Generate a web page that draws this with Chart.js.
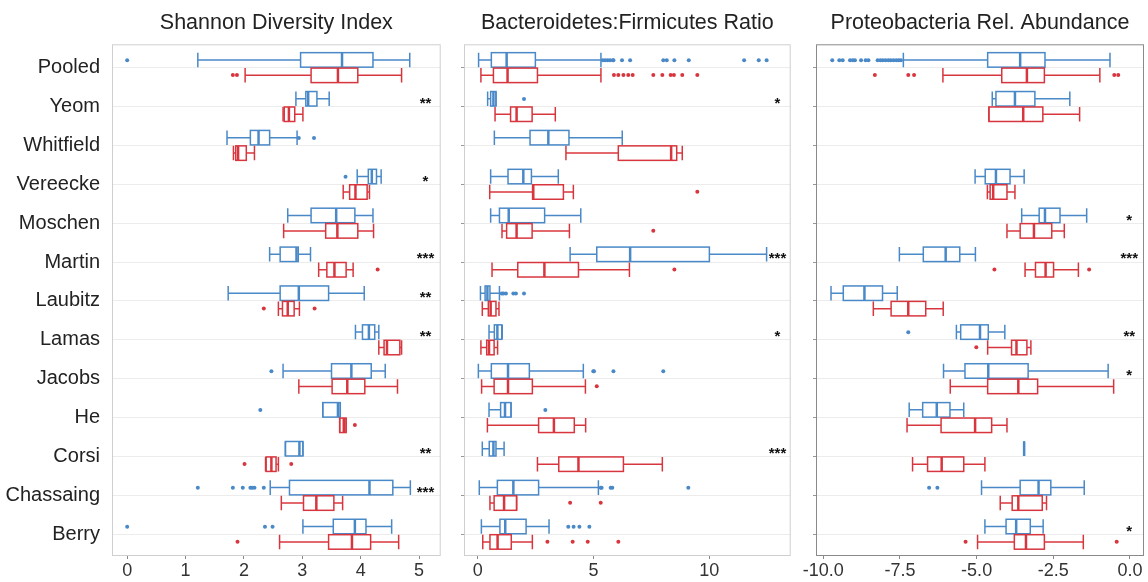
<!DOCTYPE html>
<html>
<head>
<meta charset="utf-8">
<script src="https://cdn.jsdelivr.net/npm/chart.js@4"></script>
<style>
  body { margin: 0; background: #fff; width: 1148px; height: 582px; overflow: hidden; }
  canvas { position: absolute; top: 0; }
</style>
</head>
<body>
<canvas id="c1" width="452" height="582" style="left:0px"></canvas>
<canvas id="c2" width="346" height="582" style="left:452px"></canvas>
<canvas id="c3" width="350" height="582" style="left:798px"></canvas>
<script>
// categories, top to bottom
const studies = ['Pooled', 'Yeom', 'Whitfield', 'Vereecke', 'Moschen', 'Martin', 'Laubitz',
  'Lamas', 'Jacobs', 'He', 'Corsi', 'Chassaing', 'Berry'];

// box stats: [min whisker, q1, median, q3, max whisker]
const shannonBlue = [
  [1.21, 2.97, 3.68, 4.21, 4.84], [2.89, 3.06, 3.10, 3.25, 3.46], [1.71, 2.11, 2.25, 2.44, 2.91],
  [3.94, 4.13, 4.19, 4.27, 4.35], [2.75, 3.15, 3.58, 3.90, 4.21], [2.44, 2.62, 2.90, 2.93, 3.14],
  [1.73, 2.62, 2.94, 3.45, 4.06], [3.91, 4.03, 4.14, 4.24, 4.31], [2.67, 3.50, 3.84, 4.18, 4.42],
  [3.35, 3.35, 3.61, 3.65, 3.65], [2.71, 2.71, 2.95, 3.01, 3.01], [2.45, 2.78, 4.15, 4.55, 4.85],
  [3.01, 3.53, 3.90, 4.09, 4.53]
];
const shannonRed = [
  [2.02, 3.15, 3.61, 3.95, 4.70], [2.67, 2.69, 2.77, 2.87, 3.01], [1.82, 1.86, 1.90, 2.04, 2.18],
  [3.70, 3.81, 3.91, 4.11, 4.15], [2.68, 3.40, 3.60, 3.95, 4.22], [3.28, 3.42, 3.55, 3.75, 3.87],
  [2.59, 2.66, 2.75, 2.86, 2.95], [4.31, 4.40, 4.45, 4.67, 4.70], [2.94, 3.51, 3.77, 4.07, 4.63],
  [3.64, 3.64, 3.71, 3.75, 3.75], [2.37, 2.38, 2.47, 2.55, 2.59], [2.64, 3.02, 3.24, 3.54, 3.69],
  [2.61, 3.45, 3.85, 4.17, 4.65]
];
const shannonBlueOut = [[0], [], [2.94, 3.2], [3.74], [], [], [], [], [2.47], [2.28], [],
  [1.21, 1.81, 1.98, 2.11, 2.14, 2.18, 2.34], [0, 2.36, 2.49]];
const shannonRedOut = [[1.81, 1.88], [], [], [], [], [4.29], [2.34, 3.21], [], [], [3.90],
  [2.01, 2.81], [], [1.89]];
const shannonStars = ['', '**', '', '*', '', '***', '**', '**', '', '', '**', '***', ''];
const shannonTicks = [0, 1, 2, 3, 4, 5];

const ratioBlue = [
  [0.04, 0.59, 1.25, 2.49, 5.32], [0.43, 0.56, 0.68, 0.79, 0.79], [0.72, 2.26, 3.05, 3.94, 6.24],
  [0.56, 1.31, 1.97, 2.32, 3.48], [0.56, 0.94, 1.34, 2.89, 4.45], [3.99, 5.14, 6.58, 10.0, 12.47],
  [0.12, 0.32, 0.42, 0.53, 0.94], [0.49, 0.72, 0.85, 1.04, 1.06], [0.03, 0.59, 1.31, 2.23, 4.56],
  [0.49, 0.99, 1.18, 1.44, 1.44], [0.20, 0.50, 0.68, 0.79, 1.14], [0.07, 0.85, 1.54, 2.63, 5.21],
  [0.16, 0.96, 1.19, 2.09, 3.08]
];
const ratioRed = [
  [0.14, 0.68, 1.29, 2.58, 5.32], [0.75, 1.42, 1.68, 2.35, 3.35], [3.81, 6.07, 8.35, 8.59, 8.83],
  [0.52, 2.37, 2.40, 3.70, 4.13], [1.05, 1.25, 1.68, 2.35, 3.96], [0.62, 1.73, 2.88, 4.35, 6.55],
  [0.20, 0.46, 0.56, 0.79, 0.92], [0.14, 0.39, 0.49, 0.71, 0.86], [0.17, 0.71, 1.31, 2.36, 4.65],
  [0.42, 2.63, 3.29, 4.17, 4.66], [2.58, 3.50, 4.35, 6.29, 7.97], [0.53, 0.71, 1.14, 1.68, 1.68],
  [0.22, 0.53, 0.86, 1.45, 2.36]
];
const ratioBlueOut = [
  [5.40, 5.50, 5.61, 5.71, 5.83, 5.86, 6.23, 6.58, 8.01, 8.16, 8.49, 9.11, 11.50, 12.13, 12.47],
  [2.0], [], [], [], [], [1.04, 1.11, 1.22, 1.54, 1.65, 2.0], [], [4.99, 5.02, 5.86, 8.01],
  [2.92], [], [5.31, 5.35, 5.74, 5.81, 9.09], [3.91, 4.14, 4.39, 4.82]
];
const ratioRedOut = [
  [5.88, 6.07, 6.29, 6.50, 6.69, 7.58, 7.97, 8.33, 8.47, 8.83, 9.48],
  [], [], [9.48], [7.58], [8.49], [], [], [5.14], [], [], [3.99, 5.31], [3.01, 4.10, 4.75, 6.07]
];
const ratioStars = ['', '*', '', '', '', '***', '', '*', '', '', '***', '', ''];
const ratioTicks = [0, 5, 10];

const proteoBlue = [
  [-7.39, -4.64, -3.58, -2.77, -0.65], [-4.49, -4.37, -3.75, -3.10, -1.96], null,
  [-5.05, -4.72, -4.37, -3.91, -3.45], [-3.53, -2.96, -2.77, -2.28, -1.41], [-7.52, -6.74, -6.01, -5.55, -5.04],
  [-9.75, -9.35, -8.66, -8.07, -7.59], [-5.66, -5.52, -4.89, -4.62, -4.08], [-6.08, -5.38, -4.62, -3.32, -0.71],
  [-7.20, -6.76, -6.30, -5.87, -5.42], [-3.45, -3.45, -3.45, -3.45, -3.45], [-4.84, -3.58, -2.98, -2.58, -1.49],
  [-4.73, -4.04, -3.71, -3.25, -2.83]
];
const proteoRed = [
  [-6.10, -4.18, -3.36, -2.79, -0.98], [-4.60, -4.60, -3.48, -2.84, -1.64], null,
  [-4.65, -4.56, -4.46, -4.01, -3.75], [-4.01, -3.58, -3.13, -2.55, -2.14], [-3.42, -3.08, -2.75, -2.49, -1.68],
  [-8.37, -7.79, -7.23, -6.66, -6.09], [-4.64, -3.86, -3.70, -3.36, -3.23], [-5.86, -4.64, -3.64, -3.01, -0.53],
  [-7.27, -6.16, -5.05, -4.51, -4.01], [-7.09, -6.60, -6.14, -5.42, -4.73], [-4.23, -3.84, -3.64, -2.86, -2.72],
  [-4.97, -3.77, -3.39, -2.79, -1.52]
];
const proteoBlueOut = [
  [-9.71, -9.48, -9.37, -9.13, -9.04, -8.97, -8.77, -8.62, -8.53, -8.23, -8.14, -8.06, -7.97,
   -7.88, -7.80, -7.71, -7.62, -7.54, -7.47],
  [], [], [], [], [], [], [-7.23], [], [], [], [-6.55, -6.28], []
];
const proteoRedOut = [[-8.32, -7.23, -7.04, -0.51, -0.38], [], [], [], [], [-4.42, -1.33], [],
  [-5.01], [], [], [], [], [-5.36, -0.43]];
const proteoStars = ['', '', '', '', '*', '***', '', '**', '*', '', '', '', '*'];
const proteoTicks = [-10, -7.5, -5, -2.5, 0];

const BLUE = '#4a89c8';
const RED = '#d8363e';
const FONT = "'Liberation Sans', Arial, sans-serif";
const BOX = 0.385; // box height in category units

// outlier dots as scatter points, blue just above the category line, red just below
function outlierPoints(lists, side) {
  return lists.flatMap((vals, i) => vals.map(v => ({ x: v, y: i + side * BOX / 2 })));
}

// draws boxes/whiskers/medians and significance stars through the chart's scales
const boxPlugin = {
  id: 'boxes',
  beforeDatasetsDraw(chart, args, opts) {
    const { ctx, chartArea, scales: { x, y } } = chart;
    ctx.save();
    ctx.beginPath();
    ctx.rect(chartArea.left, chartArea.top, chartArea.width, chartArea.height);
    ctx.clip();
    const line = (x1, y1, x2, y2) => { ctx.beginPath(); ctx.moveTo(x1, y1); ctx.lineTo(x2, y2); ctx.stroke(); };
    [[opts.blue, BLUE, -1], [opts.red, RED, 1]].forEach(([stats, color, side]) => {
      stats.forEach((s, i) => {
        if (!s) return;
        const ya = y.getPixelForValue(i + side * 0.012);
        const yb = y.getPixelForValue(i + side * BOX);
        const top = Math.min(ya, yb), bot = Math.max(ya, yb), mid = (top + bot) / 2;
        const [lo, q1, med, q3, hi] = s.map(v => x.getPixelForValue(v));
        ctx.strokeStyle = color;
        ctx.lineWidth = 1.5;
        line(lo, mid, q1, mid);
        line(q3, mid, hi, mid);
        line(lo, top, lo, bot);
        line(hi, top, hi, bot);
        ctx.strokeRect(q1, top, q3 - q1, bot - top);
        ctx.lineWidth = 2.5;
        line(med, top, med, bot);
      });
    });
    ctx.restore();
  },
  afterDraw(chart, args, opts) {
    const { ctx, chartArea, scales: { x, y } } = chart;
    ctx.save();
    ctx.strokeStyle = opts.frame;
    ctx.lineWidth = 1;
    ctx.strokeRect(chartArea.left + 0.5, chartArea.top + 0.5, chartArea.width - 1, chartArea.height - 1);
    ctx.fillStyle = '#111';
    ctx.font = 'bold 15px ' + FONT;
    ctx.textAlign = 'center';
    ctx.textBaseline = 'middle';
    opts.stars.forEach((st, i) => {
      if (st) ctx.fillText(st, x.getPixelForValue(opts.starX), y.getPixelForValue(i - 0.07));
    });
    ctx.restore();
  }
};

function makeChart(id, cfg) {
  return new Chart(document.getElementById(id), {
    type: 'scatter',
    data: {
      datasets: [
        { data: outlierPoints(cfg.blueOut, -1), backgroundColor: BLUE, borderWidth: 0, pointRadius: 2 },
        { data: outlierPoints(cfg.redOut, 1), backgroundColor: RED, borderWidth: 0, pointRadius: 2 }
      ]
    },
    options: {
      responsive: false,
      animation: false,
      devicePixelRatio: 1,
      events: [],
      layout: { padding: { right: cfg.padRight, left: 0, top: 0, bottom: 0 } },
      plugins: {
        legend: { display: false },
        tooltip: { enabled: false },
        title: {
          display: true, text: cfg.title, fullSize: false, color: '#222',
          font: { size: 21.5, family: FONT, weight: 'normal' },
          padding: { top: 10, bottom: 8.5 }
        },
        boxes: { blue: cfg.blue, red: cfg.red, stars: cfg.stars, starX: cfg.starX, frame: cfg.frame }
      },
      scales: {
        x: {
          type: 'linear', min: cfg.xMin, max: cfg.xMax,
          afterBuildTicks: s => { s.ticks = cfg.ticks.map(v => ({ value: v })); },
          afterFit: s => { s.height = 26; },
          ticks: {
            color: '#333', padding: 1, maxRotation: 0,
            font: { size: 18, family: FONT },
            callback: v => cfg.fmt ? v.toFixed(1) : String(v)
          },
          grid: { drawOnChartArea: false, tickLength: 3, tickColor: '#888' },
          border: { display: false }
        },
        y: {
          type: 'linear', reverse: true, min: -0.6, max: 12.56,
          afterBuildTicks: s => { s.ticks = studies.map((c, i) => ({ value: i })); },
          afterFit: s => { s.width = cfg.yWidth; },
          ticks: {
            color: '#222', padding: 4,
            font: { size: 20, family: FONT },
            callback: v => cfg.labels ? studies[v] : ''
          },
          grid: { color: '#ececec', lineWidth: 1, tickLength: cfg.labels ? 8 : 3,
                  tickColor: cfg.labels ? 'rgba(0,0,0,0)' : '#999' },
          border: { display: false }
        }
      }
    },
    plugins: [boxPlugin]
  });
}

makeChart('c1', {
  title: 'Shannon Diversity Index', blue: shannonBlue, red: shannonRed,
  blueOut: shannonBlueOut, redOut: shannonRedOut, stars: shannonStars, starX: 5.11,
  ticks: shannonTicks, xMin: -0.26, xMax: 5.37, yWidth: 112, padRight: 11.3,
  labels: true, frame: '#cfcfcf'
});
makeChart('c2', {
  title: 'Bacteroidetes:Firmicutes Ratio', blue: ratioBlue, red: ratioRed,
  blueOut: ratioBlueOut, redOut: ratioRedOut, stars: ratioStars, starX: 12.94,
  ticks: ratioTicks, xMin: -0.59, xMax: 13.51, yWidth: 12, padRight: 7.3,
  labels: false, frame: '#cfcfcf'
});
makeChart('c3', {
  title: 'Proteobacteria Rel. Abundance', blue: proteoBlue, red: proteoRed,
  blueOut: proteoBlueOut, redOut: proteoRedOut, stars: proteoStars, starX: -0.02,
  ticks: proteoTicks, xMin: -10.24, xMax: 0.46, yWidth: 18, padRight: 4,
  labels: false, frame: '#8a8a8a', fmt: true
});
</script>
</body>
</html>
